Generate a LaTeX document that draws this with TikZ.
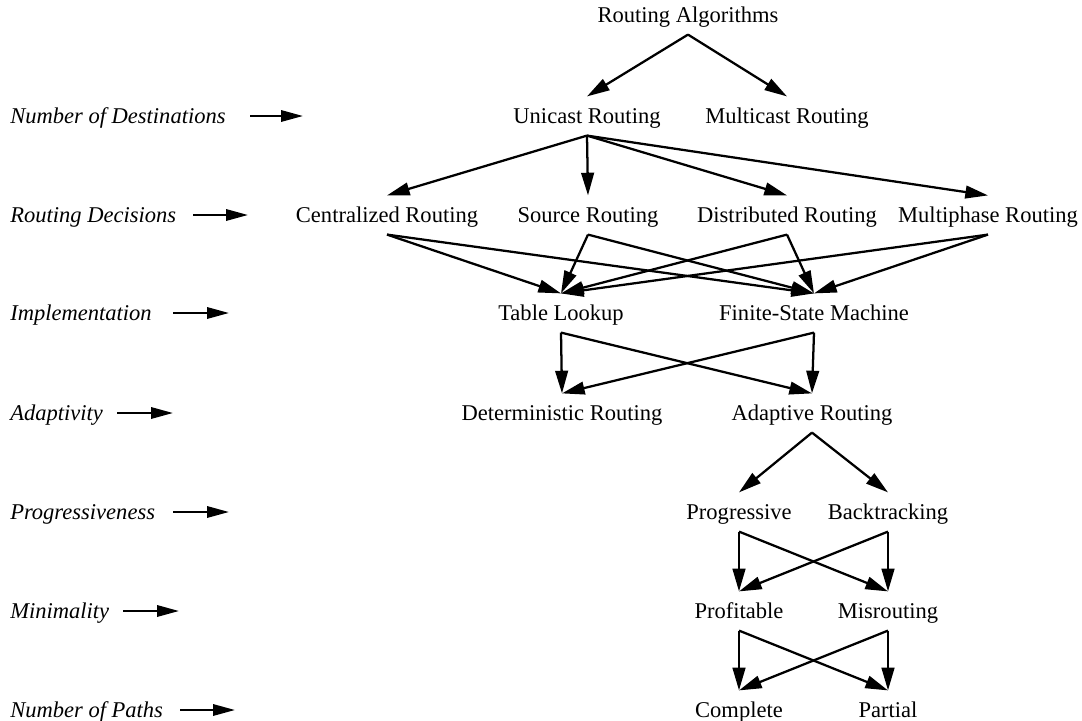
\documentclass[tikz,border=0pt]{standalone}
\usepackage{fontspec}
\setmainfont{Liberation Serif}
\usetikzlibrary{arrows.meta}
\begin{document}
\begin{tikzpicture}[x=0.75pt,y=-0.75pt,
 alg/.style={font=\fontsize{16.9}{20}\selectfont,inner sep=0pt,
   text height=13pt,text depth=2pt,minimum height=29pt},
 dim/.style={alg,font=\fontsize{16.9}{20}\selectfont\itshape,anchor=west},
 arr/.style={-{Triangle[length=17pt,width=9.5pt]},line width=1.7pt},
 darr/.style={-{Triangle[length=16.5pt,width=8.5pt]},line width=1.7pt},
 ]
 \useasboundingbox (0,0) rectangle (1082,721);
 % classification tree
 \node[alg] (ra)    at (688,15)  {Routing Algorithms};
 \node[alg] (uni)   at (587,116) {Unicast Routing};
 \node[alg] (multi) at (787,116) {Multicast Routing};
 \node[alg] (cen)   at (387,215) {Centralized Routing};
 \node[alg] (src)   at (588,215) {Source Routing};
 \node[alg] (dist)  at (787,215) {Distributed Routing};
 \node[alg] (mph)   at (988,215) {Multiphase Routing};
 \node[alg] (tab)   at (561,313) {Table Lookup};
 \node[alg] (fsm)   at (814,313) {Finite-State Machine};
 \node[alg] (det)   at (562,413) {Deterministic Routing};
 \node[alg] (adap)  at (812,413) {Adaptive Routing};
 \node[alg] (prog)  at (739,512) {Progressive};
 \node[alg] (back)  at (888,512) {Backtracking};
 \node[alg] (prof)  at (739,611) {Profitable};
 \node[alg] (mis)   at (888,611) {Misrouting};
 \node[alg] (comp)  at (739,710) {Complete};
 \node[alg] (part)  at (888,710) {Partial};

 \foreach \a/\b in {ra/uni,ra/multi,uni/cen,uni/src,uni/dist,uni/mph,
   cen/tab,cen/fsm,src/tab,src/fsm,dist/tab,dist/fsm,mph/tab,mph/fsm,
   tab/det,tab/adap,fsm/det,fsm/adap,adap/prog,adap/back,
   prog/prof,prog/mis,back/prof,back/mis,prof/comp,prof/part,mis/comp,mis/part}
   \draw[arr] (\a.south) -- (\b.north);

 % criteria on the left
 \foreach \n/\txt/\y/\xa/\xb in {nd/Number of Destinations/116/250/303,
   rd/Routing Decisions/215/193/248, im/Implementation/313/173/229,
   ad/Adaptivity/413/117/173, pr/Progressiveness/512/173/229,
   mi/Minimality/611/123/179, np/Number of Paths/710/180/235} {
   \node[dim] (\n) at (10,\y) {\txt};
   \coordinate (\n-a) at (\xa,\y);
   \coordinate (\n-b) at (\xb,\y);
   \draw[darr] (\n-a) -- (\n-b);
 }
\end{tikzpicture}
\end{document}
